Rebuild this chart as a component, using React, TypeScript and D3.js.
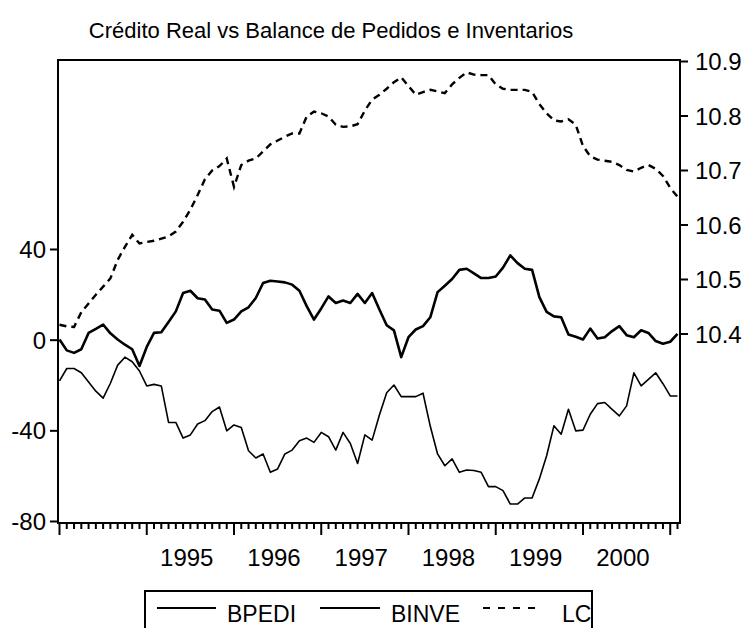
import React from 'react';
import * as d3 from 'd3';

// monthly observations 1994:01 .. 2001:02
const startYear = 1994;
const years = [1995, 1996, 1997, 1998, 1999, 2000];
const leftTicks = [-80, -40, 0, 40];
const rightTicks = [10.4, 10.5, 10.6, 10.7, 10.8, 10.9];
const seriesNames = ['BPEDI', 'BINVE', 'LC'];

const binve = [
  0.3, -4.5, -5.6, -4, 3.2, 5, 6.9, 3, 0.3, -2, -4, -11.4,
  -3, 3.2, 3.5, 8, 12.7, 20.8, 21.8, 18.5, 17.9, 13.5, 13, 7.6,
  9.1, 12.7, 14.5, 18.6, 25.2, 26.2, 25.9, 25.5, 24.5, 21.8, 15, 9.1,
  14, 19.3, 16.4, 17.5, 16.4, 20.4, 16.4, 20.8, 13.5, 6.6, 4.3, -7.5,
  1.3, 4.7, 6.2, 10.1, 21.2, 24, 27, 31, 31.5, 29.5, 27.4, 27.4,
  28.1, 32, 37.4, 34, 31.5, 31, 19, 12.5, 10.5, 10.1, 2.5, 1.5,
  0.3, 5.1, 0.7, 1.3, 4, 6.2, 2.2, 1.3, 4.4, 3.2, -0.4, -1.6,
  -0.7, 2.8,
];

const bpedi = [
  -18, -12.5, -12.5, -14.4, -18.5, -22.5, -25.6, -19, -11, -7.5, -9.5, -13.6,
  -20.2, -19.5, -20.2, -36.3, -36.3, -43.2, -41.8, -37, -35.5, -31.5, -29.5, -40,
  -37.4, -38.5, -48.8, -52, -50.2, -58.3, -56.8, -50.2, -48.5, -44.4, -43.2, -45.1,
  -40.7, -42.6, -48.5, -40.7, -45.6, -54.4, -41.8, -44.1, -33, -23.2, -19.8, -24.9,
  -24.9, -24.9, -23.4, -38, -50.2, -55.4, -52.4, -58.3, -57.3, -57.5, -58.3, -64.6,
  -64.6, -66.4, -72.3, -72.3, -69.6, -69.6, -61.2, -51, -37.8, -41.5, -30.5, -40,
  -39.7, -32.7, -28, -27.5, -30.5, -33.4, -29, -14.4, -20.2, -17.3, -14.4, -19.2,
  -24.6, -24.6,
];

const lc = [
  10.417, 10.414, 10.413, 10.44, 10.456, 10.472, 10.487, 10.502, 10.536, 10.56, 10.582, 10.566,
  10.569, 10.571, 10.575, 10.579, 10.588, 10.606, 10.628, 10.655, 10.684, 10.7, 10.708, 10.722,
  10.67, 10.71, 10.718, 10.722, 10.735, 10.748, 10.755, 10.762, 10.768, 10.768, 10.799, 10.808,
  10.805, 10.799, 10.784, 10.78, 10.781, 10.785, 10.81, 10.83, 10.839, 10.85, 10.862, 10.871,
  10.855, 10.839, 10.844, 10.848, 10.845, 10.842, 10.858, 10.87, 10.88, 10.876, 10.875, 10.875,
  10.858, 10.85, 10.848, 10.848, 10.848, 10.844, 10.822, 10.805, 10.792, 10.79, 10.794, 10.784,
  10.745, 10.726, 10.72, 10.718, 10.716, 10.71, 10.701, 10.698, 10.705, 10.71, 10.703, 10.69,
  10.668, 10.652,
];

const W = 747;
const H = 628;
const frame = { left: 58, right: 680, top: 60, bottom: 523 };
const font = '"Liberation Sans", Arial, sans-serif';

export default function App() {
  const n = lc.length;
  const x = d3.scaleLinear().domain([0, n - 1]).range([59.5, 677.5]);
  const yL = d3.scaleLinear().domain([-80, 40]).range([521.5, 249.5]);
  const yR = d3.scaleLinear().domain([10.4, 10.9]).range([334, 61.5]);

  const lineL = d3.line<number>().x((_, i) => x(i)).y((d) => yL(d));
  const lineR = d3.line<number>().x((_, i) => x(i)).y((d) => yR(d));

  const months = d3.range(n);

  return (
    <svg width={W} height={H} style={{ position: 'absolute', left: 0, top: 0 }}>
      <rect width={W} height={H} fill="#fff" />
      <text x={331} y={38} textAnchor="middle" fontFamily={font} fontSize={22} fill="#000">
        Crédito Real vs Balance de Pedidos e Inventarios
      </text>

      {/* series */}
      <path d={lineL(bpedi) || ''} fill="none" stroke="#000" strokeWidth={1.6} strokeLinejoin="round" />
      <path d={lineL(binve) || ''} fill="none" stroke="#000" strokeWidth={2.6} strokeLinejoin="round" />
      <path d={lineR(lc) || ''} fill="none" stroke="#000" strokeWidth={2.4} strokeDasharray="7,5" />

      <rect
        x={frame.left}
        y={frame.top}
        width={frame.right - frame.left}
        height={frame.bottom - frame.top}
        fill="none"
        stroke="#000"
        strokeWidth={2}
      />

      {/* left axis */}
      {leftTicks.map((t) => (
        <g key={t}>
          <line x1={frame.left - 8} x2={frame.left} y1={yL(t)} y2={yL(t)} stroke="#000" strokeWidth={2} />
          <text x={46} y={yL(t)} dy="0.36em" textAnchor="end" fontFamily={font} fontSize={24}>
            {t}
          </text>
        </g>
      ))}

      {/* right axis */}
      {rightTicks.map((t) => (
        <g key={t}>
          <line x1={frame.right} x2={frame.right + 8} y1={yR(t)} y2={yR(t)} stroke="#000" strokeWidth={2} />
          <text x={695} y={yR(t)} dy="0.36em" fontFamily={font} fontSize={24}>
            {t.toFixed(1)}
          </text>
        </g>
      ))}

      {/* time axis */}
      {months.map((i) => (
        <line
          key={i}
          x1={x(i)}
          x2={x(i)}
          y1={frame.bottom}
          y2={frame.bottom + (i % 12 === 0 ? 12 : 6)}
          stroke="#000"
          strokeWidth={2}
        />
      ))}
      {years.map((yr) => (
        <text
          key={yr}
          x={x((yr - startYear) * 12 + 5.5)}
          y={566}
          textAnchor="middle"
          fontFamily={font}
          fontSize={24}
        >
          {yr}
        </text>
      ))}

      {/* legend */}
      <rect x={145} y={591} width={447} height={60} fill="#fff" stroke="#000" strokeWidth={2} />
      <line x1={157} x2={216} y1={608} y2={608} stroke="#000" strokeWidth={2} />
      <text x={227} y={622} fontFamily={font} fontSize={23}>{seriesNames[0]}</text>
      <line x1={320} x2={380} y1={608} y2={608} stroke="#000" strokeWidth={2} />
      <text x={391} y={622} fontFamily={font} fontSize={23}>{seriesNames[1]}</text>
      <line x1={483} x2={536} y1={608} y2={608} stroke="#000" strokeWidth={2} strokeDasharray="7,8" />
      <text x={562} y={622} fontFamily={font} fontSize={23}>{seriesNames[2]}</text>
    </svg>
  );
}
